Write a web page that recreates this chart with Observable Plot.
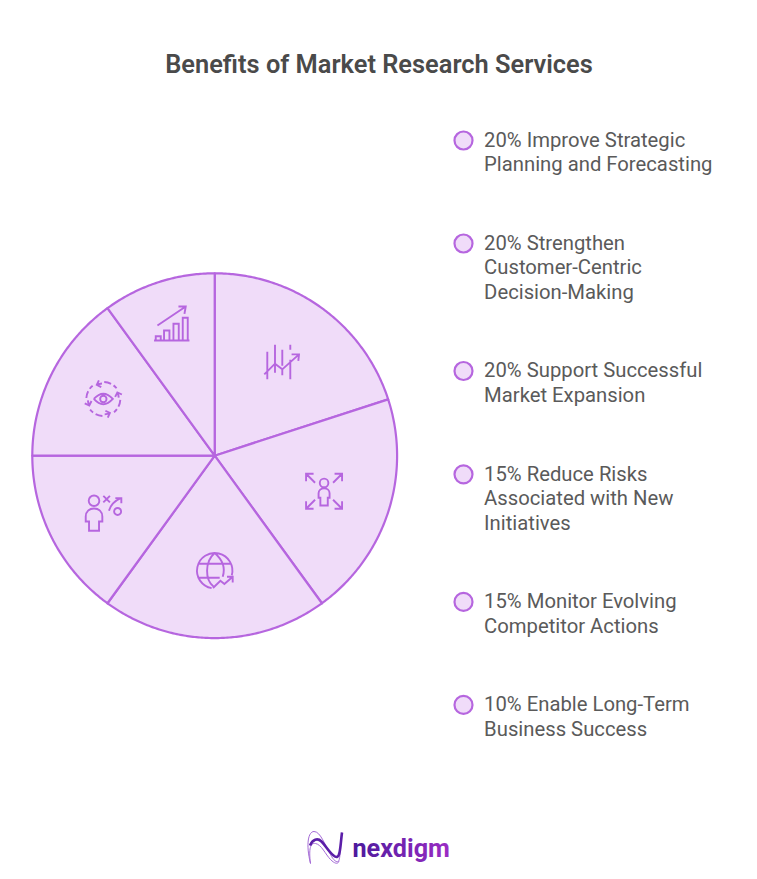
<!DOCTYPE html>
<html>
<head>
<meta charset="utf-8">
<script src="https://cdn.jsdelivr.net/npm/d3@7"></script>
<script src="https://cdn.jsdelivr.net/npm/@observablehq/plot@0.6"></script>
<style>
html,body{margin:0;padding:0;background:#fff}
svg{display:block}
</style>
</head>
<body>
<div id="chart"></div>
<script>
const title = "Benefits of Market Research Services";
const shares = [20, 20, 20, 15, 15, 10];
const labels = [
  "Improve Strategic\nPlanning and Forecasting",
  "Strengthen\nCustomer-Centric\nDecision-Making",
  "Support Successful\nMarket Expansion",
  "Reduce Risks\nAssociated with New\nInitiatives",
  "Monitor Evolving\nCompetitor Actions",
  "Enable Long-Term\nBusiness Success"
];
const legendY = [140, 243, 370.5, 473.8, 601.4, 704.4];
const iconRadius = [115, 115, 115, 125, 125, 139];

const W = 757, H = 879;
const cx = 214.2, cy = 455.2, R = 182.4;
const purple = "#b666df", light = "#f0dcf9";

const pie = d3.pie().sort(null)(shares);
const slicePts = [];
pie.forEach((p, i) => {
  const pts = [[cx, cy]];
  const n = Math.ceil((p.endAngle - p.startAngle) / 0.01);
  for (let k = 0; k <= n; k++) {
    const a = p.startAngle + (p.endAngle - p.startAngle) * k / n;
    pts.push([cx + R * Math.sin(a), cy - R * Math.cos(a)]);
  }
  pts.push([cx, cy]);
  pts.forEach(q => slicePts.push({i, x: q[0], y: q[1]}));
});

const rad = d => d * Math.PI / 180;
const poly = (c, pts) => { pts.forEach((p, i) => i ? c.lineTo(p[0], p[1]) : c.moveTo(p[0], p[1])); };
const circ = (c, x, y, r) => { c.moveTo(x + r, y); c.arc(x, y, r, 0, 2 * Math.PI); };

const icons = [
  c => { // market lines
    poly(c, [[-15, -11], [-15, 16.7]]);
    poly(c, [[-7.3, -18], [-7.3, 10]]);
    poly(c, [[0, -13], [0, 3]]); poly(c, [[0, 7], [0, 12.7]]);
    poly(c, [[8, -18], [8, -13]]); poly(c, [[8, -3], [8, 16.7]]);
    poly(c, [[-18, 11.7], [-7.3, 1], [0, 6.7], [16.7, -8.3]]);
    poly(c, [[9.3, -8.3], [16.7, -8.3], [16, -1.7]]);
  },
  c => { // person with arrows
    circ(c, 0, -8.3, 4.3);
    c.moveTo(-3.7, 14.3); c.lineTo(-3.7, 6.5); c.lineTo(-5.5, 6.5); c.lineTo(-5.5, 2);
    c.bezierCurveTo(-5.5, -1, -3, -3, 0, -3); c.bezierCurveTo(3, -3, 5.5, -1, 5.5, 2);
    c.lineTo(5.5, 6.5); c.lineTo(3.7, 6.5); c.lineTo(3.7, 14.3); c.closePath();
    [[-1, -1], [1, -1], [-1, 1], [1, 1]].forEach(([a, b]) => {
      const X = 18 * a, Y = 17.5 * b;
      poly(c, [[X - 9 * a, Y - 9 * b], [X, Y]]);
      poly(c, [[X - 7.5 * a, Y], [X, Y], [X, Y - 7.5 * b]]);
    });
  },
  c => { // globe with trend
    c.moveTo(17.7 * Math.cos(rad(100)), 17.7 * Math.sin(rad(100)));
    c.arc(0, 0, 17.7, rad(100), rad(375));
    poly(c, [[-16, -7], [16, -7]]);
    poly(c, [[-16, 7], [5, 7]]);
    c.moveTo(0, -17.7); c.bezierCurveTo(-10, -9, -10, 9, -1, 16);
    c.moveTo(0, -17.7); c.bezierCurveTo(10, -9, 10, 0, 8, 6);
    poly(c, [[-1.7, 17.3], [5.7, 10], [9.7, 13.3], [18, 6]]);
    poly(c, [[12.3, 6], [18, 6], [18, 11.7]]);
  },
  c => { // person with play
    circ(c, -9.3, -11.7, 5.3);
    c.moveTo(-14.3, 18.3); c.lineTo(-14.3, 9); c.lineTo(-17.6, 9); c.lineTo(-17.6, 4);
    c.bezierCurveTo(-17.6, -1, -14, -4, -9.3, -4); c.bezierCurveTo(-4.6, -4, -1, -1, -1, 4);
    c.lineTo(-1, 9); c.lineTo(-4.3, 9); c.lineTo(-4.3, 18.3); c.closePath();
    poly(c, [[0, -16.6], [6.6, -10]]); poly(c, [[6.6, -16.6], [0, -10]]);
    c.moveTo(5.7, -1.7); c.quadraticCurveTo(8, -10, 17.3, -14.3);
    poly(c, [[12, -14.3], [18, -14.3], [18, -9.3]]);
    circ(c, 14.3, -1, 3.5);
  },
  c => { // eye in a cycle
    c.moveTo(-9.5, 0); c.quadraticCurveTo(0, -10.5, 9.5, 0); c.quadraticCurveTo(0, 10.5, -9.5, 0);
    circ(c, 0, 0, 3.2);
    [-115, -25, 65, 155].forEach(a => {
      c.moveTo(17 * Math.cos(rad(a + 28)), 17 * Math.sin(rad(a + 28)));
      c.arc(0, 0, 17, rad(a + 28), rad(a + 52));
      c.moveTo(17 * Math.cos(rad(a + 62)), 17 * Math.sin(rad(a + 62)));
      c.arc(0, 0, 17, rad(a + 62), rad(a + 76));
      const r0 = 15.5, X = r0 * Math.cos(rad(a)), Y = r0 * Math.sin(rad(a));
      c.moveTo(X, Y);
      c.arc(0, 0, r0, rad(a), rad(a + 20));
      const u = rad(a + 90);
      poly(c, [[X + 5 * Math.cos(u - 0.7), Y + 5 * Math.sin(u - 0.7)], [X, Y], [X + 5 * Math.cos(u + 0.9), Y + 5 * Math.sin(u + 0.9)]]);
    });
  },
  c => { // growth bars
    poly(c, [[-17.7, 17], [17.7, 17]]);
    [[-16, -11, 12.7], [-7.7, -2.3, 7], [1.7, 7, 0.3], [11, 16, -5.7]].forEach(([a, b, t]) => {
      poly(c, [[a, 17], [a, t], [b, t], [b, 17]]);
    });
    poly(c, [[-14.3, 2], [14, -17]]);
    poly(c, [[6.7, -17], [14, -17], [12.7, -9.7]]);
  }
];

const iconAt = pie.map((p, i) => {
  const a = (p.startAngle + p.endAngle) / 2;
  return {x: cx + iconRadius[i] * Math.sin(a), y: cy - iconRadius[i] * Math.cos(a)};
});

const legend = shares.map((s, i) => ({text: `${s}% ${labels[i]}`, y: legendY[i]}));

const logoThin = {draw(c) {
  c.moveTo(-14, 15); c.bezierCurveTo(-19, -5, -16, -17, -10.5, -17);
  c.bezierCurveTo(-4, -17, 0, -4, 6, 6); c.bezierCurveTo(9, 12, 12, 14, 14, 13);
  c.bezierCurveTo(16, 10, 16, -5, 17.5, -16);
  c.moveTo(-14, 15); c.bezierCurveTo(-16, 0, -14, -6, -9, -5);
  c.bezierCurveTo(-3, -4, 1, 6, 6, 11); c.bezierCurveTo(10, 15, 13, 16, 14.5, 13);
}};
const logoThick = {draw(c) {
  c.moveTo(-14.5, -3); c.bezierCurveTo(-12, -9, -7, -11, -3, -7);
  c.bezierCurveTo(1, -3, 4, 3, 9, 7); c.bezierCurveTo(12, 9.5, 14, 9, 15, 4);
  c.bezierCurveTo(16, 0, 16.5, -8, 17.5, -16);
}};

const gradient = () => {
  const ns = "http://www.w3.org/2000/svg";
  const defs = document.createElementNS(ns, "defs");
  defs.innerHTML = `<linearGradient id="logoGrad" x1="0" x2="1" y1="0" y2="0">
    <stop offset="0" stop-color="#4a1a9c"/><stop offset="1" stop-color="#9b2cc4"/></linearGradient>`;
  return defs;
};

const chart = Plot.plot({
  width: W, height: H,
  margin: 0,
  x: {domain: [0, W], range: [0, W], axis: null},
  y: {domain: [0, H], range: [0, H], axis: null},
  style: {background: "#fff", fontFamily: "Roboto, sans-serif"},
  marks: [
    gradient,
    Plot.line(slicePts, {x: "x", y: "y", z: "i", fill: light, stroke: purple, strokeWidth: 2.2, strokeLinejoin: "round"}),
    ...icons.map((draw, i) => Plot.dot([iconAt[i]], {
      x: "x", y: "y", r: 5, symbol: {draw}, fill: "none", stroke: purple, strokeWidth: 1.9, strokeLinejoin: "miter"
    })),
    Plot.text([title], {x: [378.5], y: [64], text: d => d, fontSize: 25.4, fontWeight: 600, fill: "#4a4a4a", textAnchor: "middle"}),
    Plot.dot(legend, {x: () => 463, y: "y", r: 9, fill: light, stroke: purple, strokeWidth: 2.2}),
    Plot.text(legend, {x: () => 483.6, y: d => d.y - 11, text: "text", fontSize: 20.25, lineHeight: 1.21, lineAnchor: "top", textAnchor: "start", fill: "#5a5a5a"}),
    Plot.dot([{x: 324, y: 848}], {x: "x", y: "y", r: 5, symbol: logoThin, fill: "none", stroke: "#a46ad6", strokeWidth: 1}),
    Plot.dot([{x: 324, y: 848}], {x: "x", y: "y", r: 5, symbol: logoThick, fill: "none", stroke: "#5b1ea8", strokeWidth: 2.6}),
    Plot.text(["nexdigm"], {x: [352], y: [848], text: d => d, fontSize: 25.2, fontWeight: 700, textAnchor: "start", fill: "url(#logoGrad)", fontFamily: "Roboto, sans-serif"})
  ]
});
document.getElementById("chart").append(chart);
</script>
</body>
</html>
